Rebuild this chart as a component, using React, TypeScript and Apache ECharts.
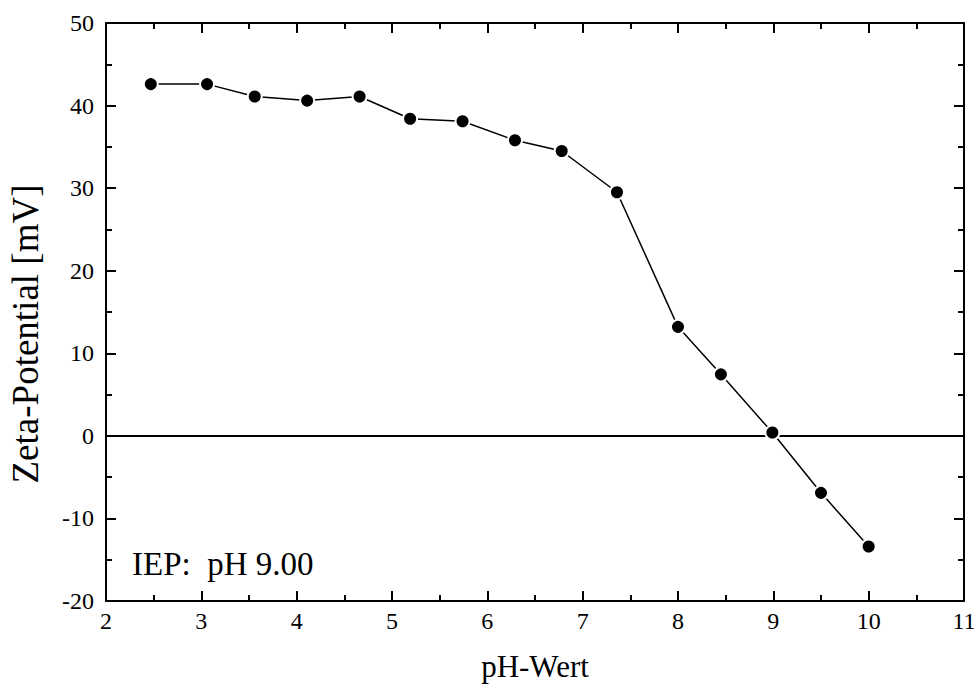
import React, { useEffect, useRef } from "react";
import * as echarts from "echarts";

// Measured zeta potential vs. pH
const phValues = [2.47, 3.06, 3.56, 4.11, 4.66, 5.19, 5.74, 6.29, 6.78, 7.36, 8.0, 8.45, 8.99, 9.5, 10.0];
const zetaValues = [42.6, 42.6, 41.1, 40.6, 41.1, 38.4, 38.1, 35.8, 34.5, 29.5, 13.2, 7.45, 0.4, -6.9, -13.4];

const xTicks = { min: 2, max: 11, step: 1 };
const yTicks = { min: -20, max: 50, step: 10 };

const xTitle = "pH-Wert";
const yTitle = "Zeta-Potential [mV]";
const iepLabel = "IEP:  pH 9.00";

const FONT = "Liberation Serif";

export default function App() {
  const ref = useRef<HTMLDivElement>(null);

  useEffect(() => {
    if (!ref.current) return;
    const chart = echarts.init(ref.current, null, { renderer: "svg" });

    const axisLine = { show: true, onZero: false, lineStyle: { color: "#000", width: 2 } };
    const axisTick = { show: true, inside: true, length: 10, lineStyle: { color: "#000", width: 2 } };
    const minorTick = { show: true, splitNumber: 2, length: 6, lineStyle: { color: "#000", width: 2 } };
    const label = { color: "#000", fontFamily: FONT, fontSize: 24 };

    const xBase = {
      type: "value" as const,
      min: xTicks.min,
      max: xTicks.max,
      interval: xTicks.step,
      axisLine,
      axisTick,
      minorTick,
      splitLine: { show: false },
    };
    const yBase = {
      type: "value" as const,
      min: yTicks.min,
      max: yTicks.max,
      interval: yTicks.step,
      axisLine,
      axisTick,
      minorTick,
      splitLine: { show: false },
    };

    chart.setOption({
      animation: false,
      backgroundColor: "#fff",
      textStyle: { fontFamily: FONT },
      grid: {
        left: 106,
        top: 23,
        right: 14,
        bottom: 85,
        containLabel: false,
        outerBoundsMode: "none",
      },
      xAxis: [
        {
          ...xBase,
          position: "bottom",
          axisLabel: { ...label, margin: 8 },
          name: xTitle,
          nameLocation: "middle",
          nameGap: 50,
          nameTextStyle: { color: "#000", fontFamily: FONT, fontSize: 31 },
        },
        { ...xBase, position: "top", axisLabel: { show: false } },
      ],
      yAxis: [
        { ...yBase, position: "left", axisLabel: { ...label, margin: 12 } },
        { ...yBase, position: "right", axisLabel: { show: false } },
      ],
      graphic: [
        {
          type: "text",
          x: 25,
          y: 334,
          rotation: Math.PI / 2,
          style: {
            text: yTitle,
            fill: "#000",
            fontFamily: FONT,
            fontSize: 37,
            align: "center",
            verticalAlign: "middle",
          },
        },
        {
          type: "text",
          x: 132,
          y: 564,
          style: {
            text: iepLabel,
            fill: "#000",
            fontFamily: FONT,
            fontSize: 33,
            verticalAlign: "middle",
            align: "left",
          },
        },
      ],
      series: [
        {
          type: "line",
          data: phValues.map((p, i) => [p, zetaValues[i]]),
          symbol: "circle",
          symbolSize: 14,
          itemStyle: { color: "#000", borderColor: "#fff", borderWidth: 2 },
          lineStyle: { color: "#000", width: 1.5 },
          z: 3,
          markLine: {
            silent: true,
            symbol: "none",
            label: { show: false },
            lineStyle: { color: "#000", width: 2, type: "solid" },
            data: [{ yAxis: 0 }],
            z: 2,
          },
        },
      ],
    });

    return () => chart.dispose();
  }, []);

  return (
    <div
      ref={ref}
      style={{ position: "fixed", left: 0, top: 0, width: 978, height: 686, background: "#fff" }}
    />
  );
}
